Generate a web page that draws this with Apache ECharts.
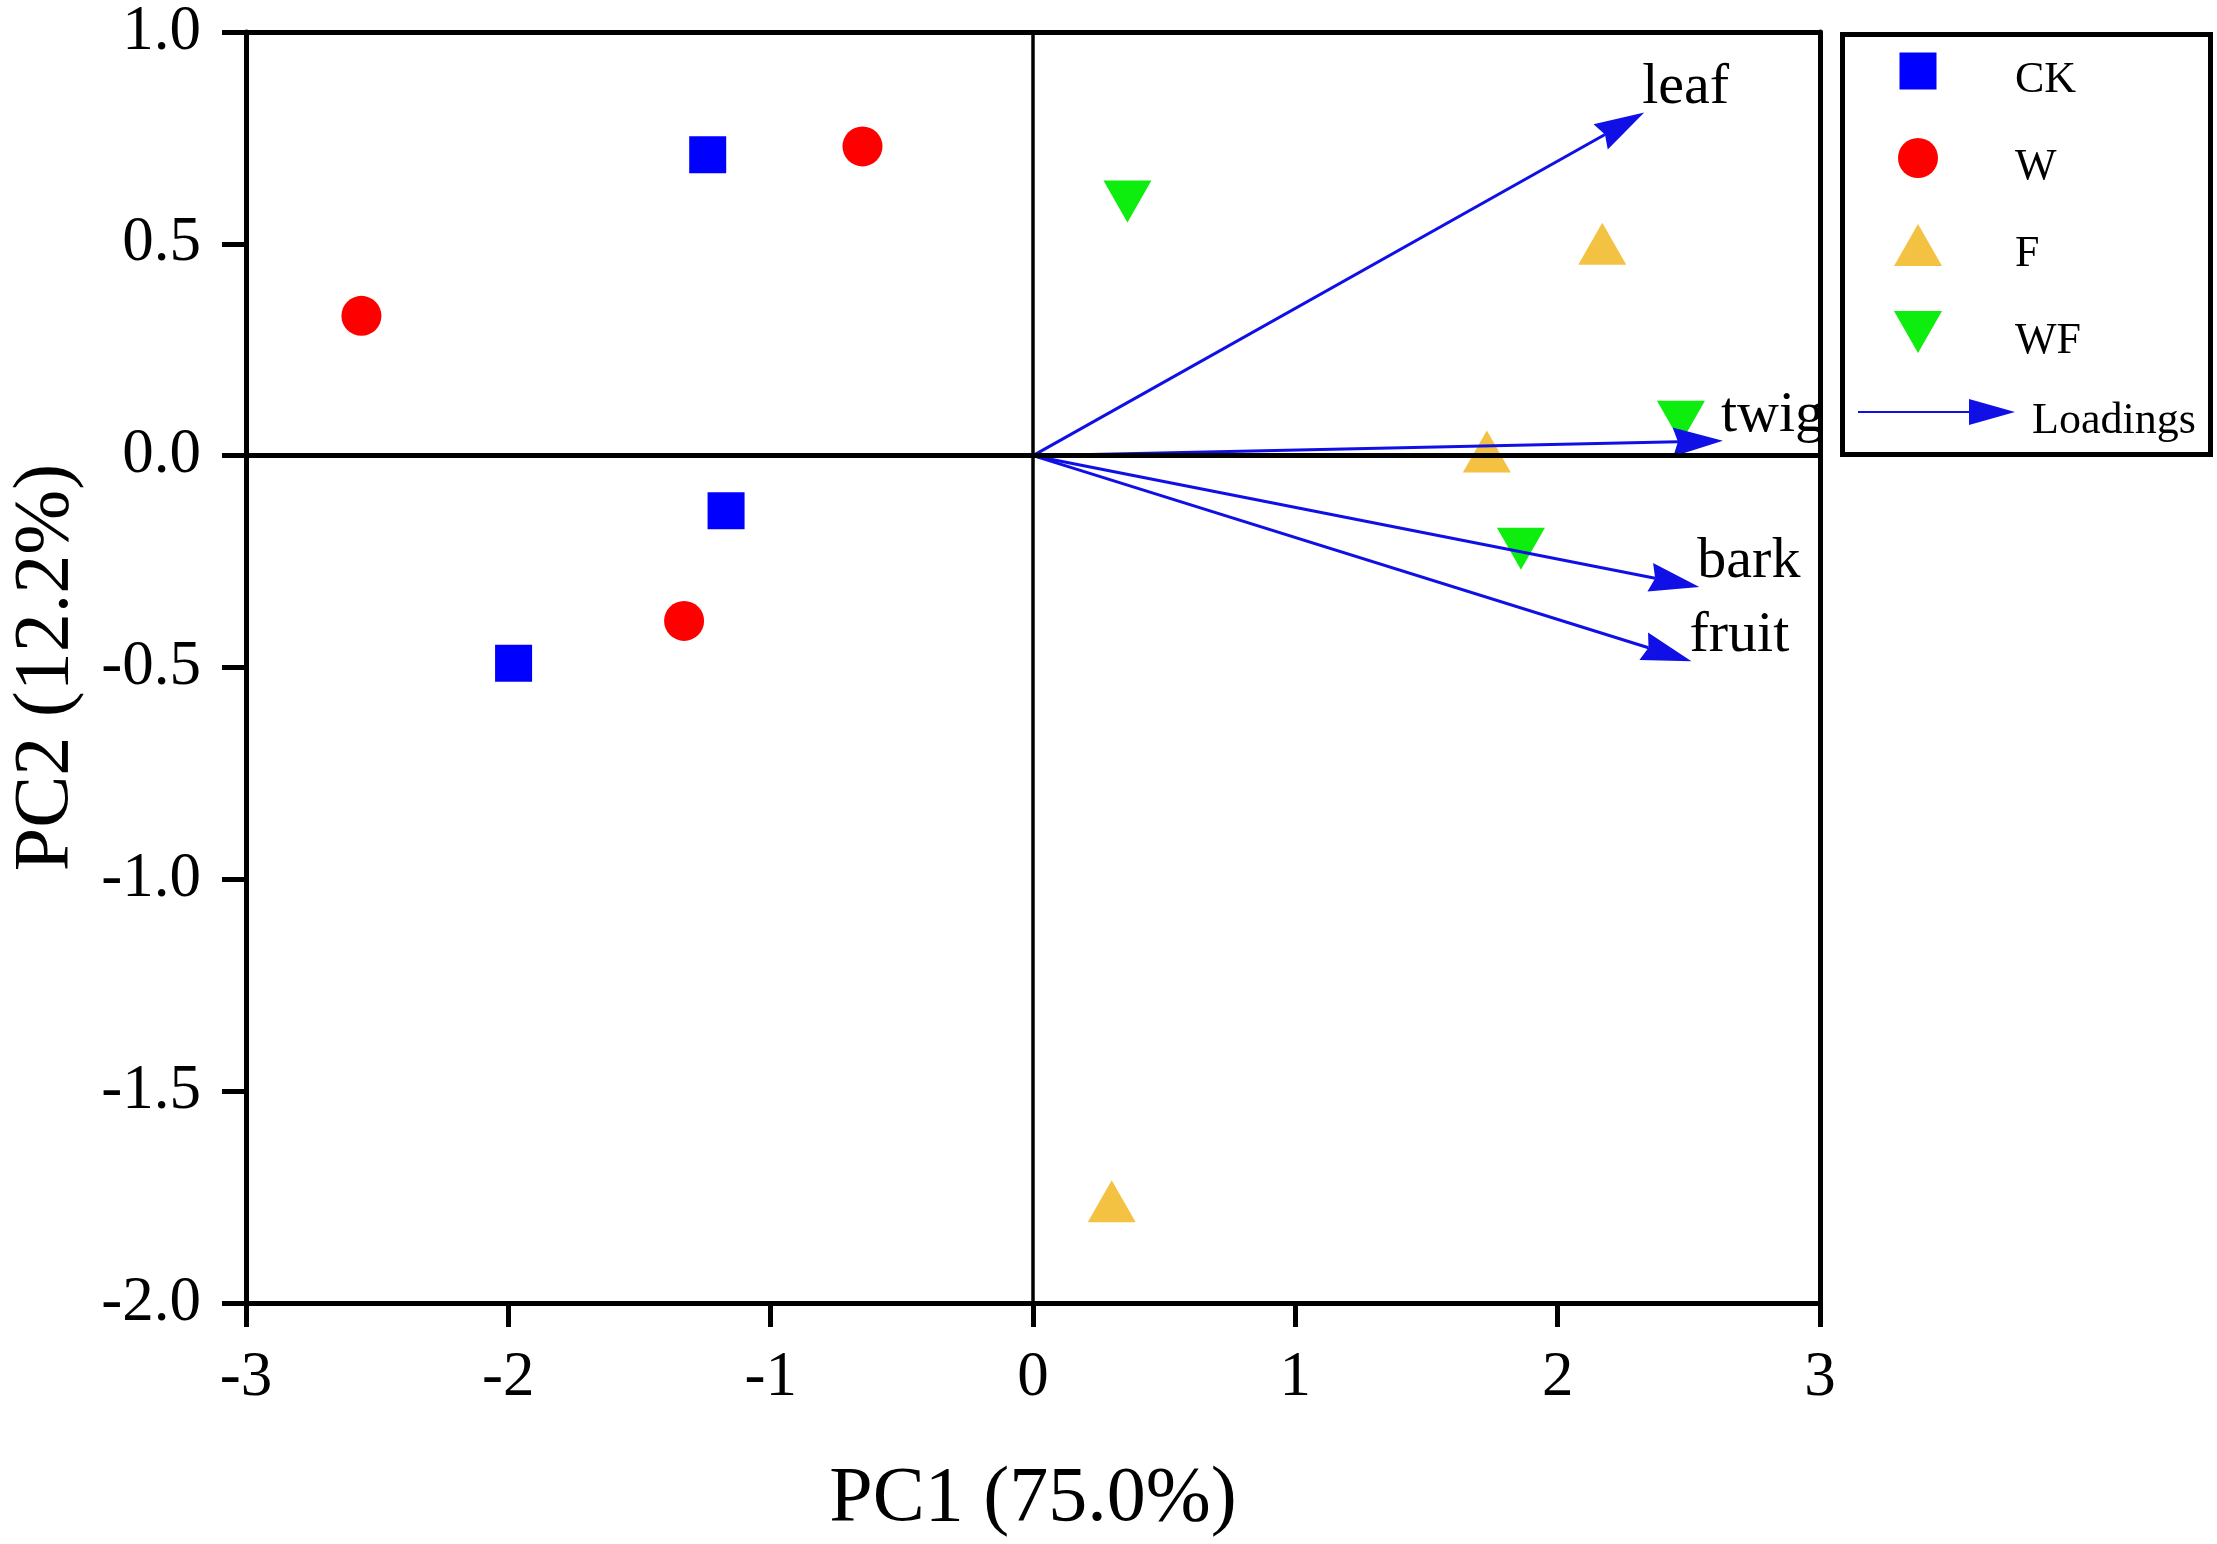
<!DOCTYPE html>
<html>
<head>
<meta charset="utf-8">
<script src="https://cdn.jsdelivr.net/npm/echarts@6/dist/echarts.min.js"></script>
<style>
html,body{margin:0;padding:0;background:#fff;}
#chart{width:2217px;height:1544px;}
</style>
</head>
<body>
<div id="chart"></div>
<script>
// ---- data ----
const groupNames = ['CK', 'W', 'F', 'WF'];
const ckPC1 = [-1.24, -1.17, -1.98];
const ckPC2 = [0.71, -0.13, -0.49];
const wPC1 = [-2.56, -0.65, -1.33];
const wPC2 = [0.33, 0.73, -0.39];
const fPC1 = [2.17, 1.73, 0.30];
const fPC2 = [0.50, 0.01, -1.76];
const wfPC1 = [0.36, 2.47, 1.86];
const wfPC2 = [0.60, 0.08, -0.22];
const loadingNames = ['leaf', 'twig', 'bark', 'fruit'];
const loadingPC1 = [2.33, 2.63, 2.54, 2.51];
const loadingPC2 = [0.81, 0.035, -0.31, -0.485];
const xTicks = [-3, -2, -1, 0, 1, 2, 3];
const yTicks = ['-2.0', '-1.5', '-1.0', '-0.5', '0.0', '0.5', '1.0'];
const xTitle = 'PC1 (75.0%)';
const yTitle = 'PC2 (12.2%)';
const loadingsName = 'Loadings';

// ---- styles ----
const FONT = '"Liberation Serif", "Times New Roman", serif';
const colors = { CK: '#0000FF', W: '#FF0000', F: '#F4C242', WF: '#0EEE0E' };
const arrowColor = '#1010E6';

function pairs(xs, ys) { return xs.map((x, i) => [x, ys[i]]); }

const chart = echarts.init(document.getElementById('chart'), null, { renderer: 'canvas' });

const axisLineStyle = { color: '#000', width: 5 };

const option = {
  animation: false,
  backgroundColor: '#fff',
  grid: { left: 243, right: 397, top: 32, bottom: 240, containLabel: false },
  xAxis: [
    {
      type: 'value', position: 'bottom', min: -3, max: 3, interval: 1,
      axisLine: { show: true, onZero: false, lineStyle: axisLineStyle },
      axisTick: { show: true, inside: false, length: 24, lineStyle: { color: '#000', width: 5 } },
      axisLabel: { show: true, margin: 44, color: '#000', fontSize: 63, fontFamily: FONT,
        formatter: v => String(xTicks[xTicks.indexOf(v)]) },
      splitLine: { show: false },
      name: xTitle, nameLocation: 'middle', nameGap: 158,
      nameTextStyle: { color: '#000', fontSize: 78, fontFamily: FONT }
    },
    {
      type: 'value', position: 'top', min: -3, max: 3, interval: 1,
      axisLine: { show: true, onZero: false, lineStyle: axisLineStyle },
      axisTick: { show: false }, axisLabel: { show: false }, splitLine: { show: false }
    }
  ],
  yAxis: [
    {
      type: 'value', position: 'left', min: -2, max: 1, interval: 0.5,
      axisLine: { show: true, onZero: false, lineStyle: axisLineStyle },
      axisTick: { show: true, inside: false, length: 24, lineStyle: { color: '#000', width: 5 } },
      axisLabel: { show: true, margin: 45, color: '#000', fontSize: 63, fontFamily: FONT,
        formatter: v => yTicks[Math.round((v + 2) / 0.5)] },
      splitLine: { show: false },
      name: yTitle, nameLocation: 'middle', nameGap: 160, nameRotate: 90,
      nameTextStyle: { color: '#000', fontSize: 78, fontFamily: FONT }
    },
    {
      type: 'value', position: 'right', min: -2, max: 1, interval: 0.5,
      axisLine: { show: true, onZero: false, lineStyle: axisLineStyle },
      axisTick: { show: false }, axisLabel: { show: false }, splitLine: { show: false }
    }
  ],
  legend: [
    {
      data: [
        { name: 'CK', icon: 'path://M0,0M48,60M5.5,2.5h37v37h-37z' },
        { name: 'W', icon: 'path://M0,0M48,60M44,21a20,20 0 1,1 -40,0a20,20 0 1,1 40,0z' },
        { name: 'F', icon: 'path://M0,0M48,60M24,0L48,42L0,42Z' },
        { name: 'WF', icon: 'path://M0,0M48,60M0,0L48,0L24,42Z' }
      ],
      orient: 'vertical', left: 1894, top: 50, padding: 0,
      itemWidth: 48, itemHeight: 60, itemGap: 27, selectedMode: false,
      symbolRotate: 0,
      textStyle: { color: '#000', fontSize: 44, fontFamily: FONT, lineHeight: 40, padding: [0, 0, 0, 68] }
    },
    {
      data: [{ name: loadingsName, icon: 'path://M0,0M157,44M0,12L111,12L111,0L157,13L111,26L111,14L0,14Z' }],
      orient: 'vertical', left: 1858, top: 399, padding: 0,
      itemWidth: 157, itemHeight: 44, selectedMode: false,
      textStyle: { color: '#000', fontSize: 44, fontFamily: FONT, lineHeight: 40, padding: [0, 0, 0, 12] }
    }
  ],
  graphic: [
    {
      type: 'rect', left: 1840, top: 32, z: 10, silent: true,
      shape: { width: 368, height: 420 },
      style: { fill: 'none', stroke: '#000', lineWidth: 5 }
    }
  ],
  series: [
    { name: 'CK', type: 'scatter', z: 2, symbol: 'rect', symbolSize: 37,
      itemStyle: { color: colors.CK, opacity: 1 }, data: pairs(ckPC1, ckPC2) },
    { name: 'W', type: 'scatter', z: 2, symbol: 'circle', symbolSize: 40,
      itemStyle: { color: colors.W, opacity: 1 }, data: pairs(wPC1, wPC2) },
    { name: 'F', type: 'scatter', z: 2, symbol: 'path://M24,0L48,42L0,42Z', symbolSize: [48, 42],
      itemStyle: { color: colors.F, opacity: 1 }, data: pairs(fPC1, fPC2) },
    { name: 'WF', type: 'scatter', z: 2, symbol: 'path://M0,0L48,0L24,42Z', symbolSize: [48, 42],
      itemStyle: { color: colors.WF, opacity: 1 }, data: pairs(wfPC1, wfPC2) },
    {
      name: loadingsName, type: 'custom', z: 4,
      itemStyle: { color: arrowColor },
      encode: { x: 0, y: 1 },
      data: loadingNames.map((n, i) => [loadingPC1[i], loadingPC2[i], n]),
      renderItem: function (params, api) {
        const p0 = api.coord([0, 0]);
        const p1 = api.coord([api.value(0), api.value(1)]);
        const name = loadingNames[params.dataIndex];
        const dx = p1[0] - p0[0], dy = p1[1] - p0[1];
        const len = Math.hypot(dx, dy);
        const ux = dx / len, uy = dy / len;
        const nx = -uy, ny = ux;
        const headLen = 50, headW = 29, notch = 5;
        const bx = p1[0] - ux * headLen, by = p1[1] - uy * headLen;
        const mx = p1[0] - ux * (headLen - notch), my = p1[1] - uy * (headLen - notch);
        return {
          type: 'group',
          children: [
            { type: 'line', shape: { x1: p0[0], y1: p0[1], x2: mx, y2: my },
              style: { stroke: arrowColor, lineWidth: 3 } },
            { type: 'polygon',
              shape: { points: [[p1[0], p1[1]], [bx + nx * headW / 2, by + ny * headW / 2], [mx, my], [bx - nx * headW / 2, by - ny * headW / 2]] },
              style: { fill: arrowColor } },
            { type: 'text', x: p1[0] - 2, y: p1[1] - 25,
              style: { text: name, fill: '#000', font: '58px ' + FONT, align: 'left', verticalAlign: 'middle' } }
          ]
        };
      },
      markLine: {
        silent: true, symbol: ['none', 'none'], animation: false,
        label: { show: false },
        lineStyle: { color: '#000', type: 'solid' },
        data: [
          { xAxis: 0, lineStyle: { color: '#000', width: 3.5, type: 'solid' } },
          { yAxis: 0, lineStyle: { color: '#000', width: 5, type: 'solid' } }
        ]
      }
    }
  ]
};

chart.setOption(option);
</script>
</body>
</html>
